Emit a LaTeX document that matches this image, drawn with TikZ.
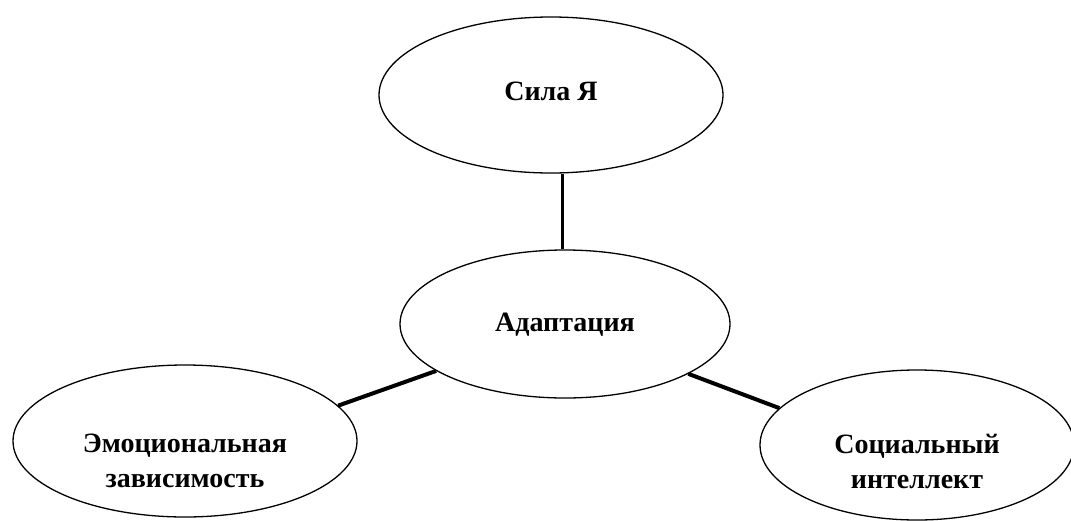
\documentclass[tikz,border=0pt]{standalone}
\usepackage{fontspec}
\setmainfont{Liberation Serif}
\usepackage{tikz}
\usetikzlibrary{shapes.geometric,positioning}

\tikzset{
    oval/.style={draw, ellipse, line width=1.3pt, inner sep=0pt},
    link/.style={line width=4pt},
    txt/.style={font=\fontsize{28}{35}\selectfont\bfseries, align=center}
}

\begin{document}
\begin{tikzpicture}[x=1pt, y=-1pt]
    \useasboundingbox (0, 0) rectangle (1071, 520);

    % Ovals
    \node [oval, minimum width=344pt, minimum height=156pt] (sila) at (551, 95) {};
    \node [oval, minimum width=330pt, minimum height=148pt] (adapt) at (565, 324) {};
    \node [oval, minimum width=344pt, minimum height=152pt] (emoc) at (185, 441) {};
    \node [oval, minimum width=314pt, minimum height=150pt] (social) at (917, 445) {};

    % Labels
    \node [txt] (silaT) at (551, 91) {Сила Я};
    \node [txt] (adaptT) at (565, 325) {Адаптация};
    \node [txt] (emocT) at (185, 461) {Эмоциональная\\зависимость};
    \node [txt] (socialT) at (917, 461) {Социальный\\интеллект};

    % Links
    \draw [link, line width=3pt] ([xshift=-3pt]adapt.north |- sila.south) -- ([xshift=-3pt]adapt.north);
    \draw [link] (emoc.13) -- (adapt.200);
    \draw [link] (adapt.338) -- (social.165);
\end{tikzpicture}
\end{document}
